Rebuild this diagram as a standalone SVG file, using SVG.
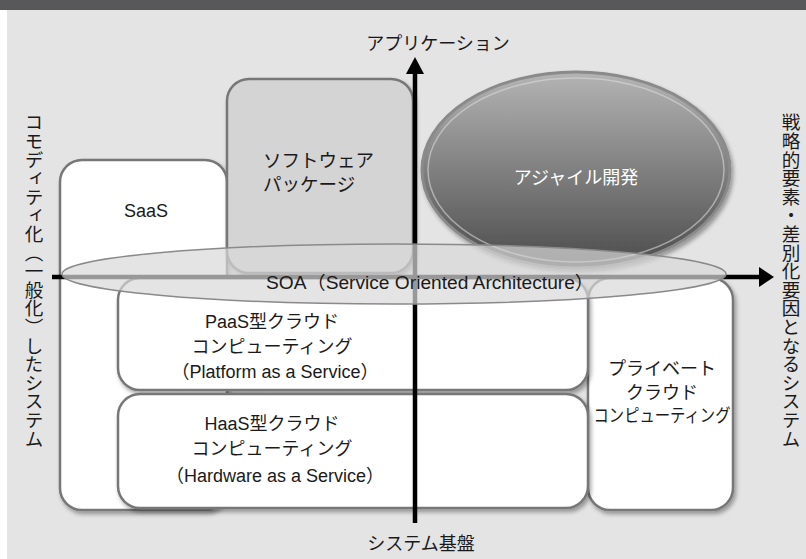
<svg xmlns="http://www.w3.org/2000/svg" width="806" height="559" viewBox="0 0 806 559">
<style>
text{font-family:"Liberation Sans","Noto Sans CJK JP",sans-serif;fill:#1a1a1a;}
.lbl{font-size:18px;text-anchor:middle;}
.box{fill:#fff;stroke:#777;stroke-width:2.5;filter:url(#sh);}
.vt{font-size:18.6px;writing-mode:vertical-rl;font-family:"Noto Sans CJK JP",sans-serif;}
.axis{stroke:#000;stroke-width:4.5;fill:none;}
</style>
<defs>
<filter id="sh" x="-10%" y="-10%" width="130%" height="130%">
<feDropShadow dx="2" dy="3" stdDeviation="2" flood-color="#000" flood-opacity="0.35"/>
</filter>
<linearGradient id="ag" x1="0" y1="0" x2="0" y2="1">
<stop offset="0" stop-color="#b4b4b4"/>
<stop offset="1" stop-color="#4c4c4c"/>
</linearGradient>
</defs>
<rect x="0" y="0" width="806" height="559" fill="#fff"/>
<rect x="7" y="10" width="799" height="549" fill="#e4e4e4"/>
<rect x="0" y="0" width="806" height="10" fill="#58575a"/>

<g id="saas">
<rect class="box" x="60" y="160" width="167" height="350" rx="22"/>
<text class="lbl" x="146" y="217">SaaS</text>
</g>
<g id="software">
<rect class="box" x="227" y="79" width="186" height="194" rx="22" style="fill:#d4d4d4"/>
<text x="263" y="167" font-size="18.5">ソフトウェア</text>
<text x="263" y="191" font-size="18.5">パッケージ</text>
</g>
<g id="private">
<rect class="box" x="588" y="278" width="145" height="232" rx="22"/>
<text class="lbl" x="662" y="375">プライベート</text>
<text class="lbl" x="662" y="399">クラウド</text>
<text class="lbl" x="662" y="422" textLength="137" lengthAdjust="spacingAndGlyphs">コンピューティング</text>
</g>
<g id="paas">
<rect class="box" x="118" y="278" width="470" height="112" rx="22"/>
<text class="lbl" x="272" y="328" font-size="17.5">PaaS型クラウド</text>
<text class="lbl" x="272" y="353" font-size="17.5">コンピューティング</text>
<text class="lbl" x="275" y="378" font-size="17">（Platform as a Service）</text>
</g>
<g id="haas">
<rect class="box" x="118" y="394" width="470" height="114" rx="22"/>
<text class="lbl" x="272" y="430" font-size="17.5">HaaS型クラウド</text>
<text class="lbl" x="272" y="455" font-size="17.5">コンピューティング</text>
<text class="lbl" x="275" y="482" font-size="17">（Hardware as a Service）</text>
</g>
<g id="agile">
<ellipse cx="576" cy="170" rx="154" ry="98" fill="url(#ag)" stroke="#8a8a8a" stroke-width="3" filter="url(#sh)"/>
<ellipse cx="576" cy="170" rx="148" ry="92" fill="none" stroke="#d8d8d8" stroke-opacity="0.6" stroke-width="1.5"/>
<text class="lbl" x="576" y="184" style="fill:#fff" font-size="19">アジャイル開発</text>
</g>

<g id="connectors">
<line class="axis" x1="415" y1="523" x2="415" y2="70"/>
<polygon points="415,57 406,74 424,74" fill="#000"/>
<line class="axis" x1="52" y1="277" x2="762" y2="277"/>
<polygon points="774,277 759,267 759,287" fill="#000"/>
</g>

<g id="soa">
<ellipse cx="394" cy="274" rx="332" ry="30" fill="#d8d8d8" fill-opacity="0.7" stroke="#8a8a8a" stroke-width="1.5"/>
<text class="lbl" x="430" y="289" font-size="18.5" textLength="328" lengthAdjust="spacingAndGlyphs">SOA（Service Oriented Architecture）</text>
</g>

<g id="labels">
<text class="lbl" x="438" y="50" font-size="19">アプリケーション</text>
<text class="lbl" x="421" y="550" font-size="18.5">システム基盤</text>
<text class="vt" x="34" y="113">コモディティ化（一般化）したシステム</text>
<text class="vt" x="791" y="113">戦略的要素・差別化要因となるシステム</text>
</g>
</svg>
